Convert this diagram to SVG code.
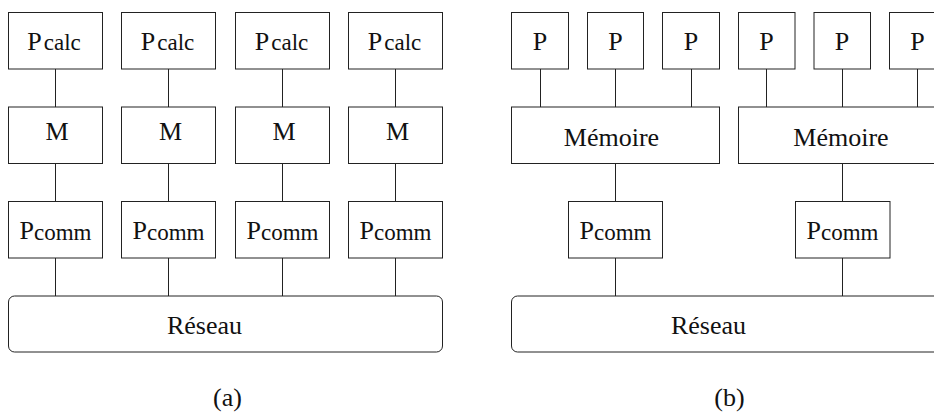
<svg xmlns="http://www.w3.org/2000/svg" width="934" height="414" viewBox="0 0 934 414">
  <style>
    .box { fill: #ffffff; stroke: #222222; stroke-width: 1; }
    .wire { stroke: #222222; stroke-width: 1; fill: none; }
    .c { text-anchor: middle; }
    .sub { font-size: 23px; }
  </style>
  <rect width="934" height="414" fill="#ffffff"/>

  <!-- connectors -->
  <g id="connectors">
    <!-- (a) four independent columns -->
    <path class="wire" d="M55.5 69V107M55.5 163.5V201.5M55.5 258V296"/>
    <path class="wire" d="M168.5 69V107M168.5 163.5V201.5M168.5 258V296"/>
    <path class="wire" d="M282.5 69V107M282.5 163.5V201.5M282.5 258V296"/>
    <path class="wire" d="M395.5 69V107M395.5 163.5V201.5M395.5 258V296"/>
    <!-- (b) processors to shared memories -->
    <path class="wire" d="M540.5 69V107M615.5 69V107M691.5 69V107"/>
    <path class="wire" d="M766.5 69V107M842.5 69V107M917.5 69V107"/>
    <path class="wire" d="M615.5 163.5V201.5M615.5 258V296"/>
    <path class="wire" d="M842.5 163.5V201.5M842.5 258V296"/>
  </g>

  <g font-family="Liberation Serif, Times New Roman, serif" font-size="26" fill="#111111">
  <!-- (a) distributed memory -->
  <g id="a-pcalc-1"><rect class="box" x="8.5" y="12.5" width="94" height="56.5"/><text class="c" x="54" y="49.5">P<tspan class="sub" dx="2">calc</tspan></text></g>
  <g id="a-pcalc-2"><rect class="box" x="121.5" y="12.5" width="94" height="56.5"/><text class="c" x="167.5" y="49.5">P<tspan class="sub" dx="2">calc</tspan></text></g>
  <g id="a-pcalc-3"><rect class="box" x="235.5" y="12.5" width="94" height="56.5"/><text class="c" x="281.5" y="49.5">P<tspan class="sub" dx="2">calc</tspan></text></g>
  <g id="a-pcalc-4"><rect class="box" x="348.5" y="12.5" width="94" height="56.5"/><text class="c" x="394.5" y="49.5">P<tspan class="sub" dx="2">calc</tspan></text></g>

  <g id="a-mem-1"><rect class="box" x="8.5" y="107" width="94" height="56.5"/><text class="c" x="57" y="139.5">M</text></g>
  <g id="a-mem-2"><rect class="box" x="121.5" y="107" width="94" height="56.5"/><text class="c" x="170.5" y="139.5">M</text></g>
  <g id="a-mem-3"><rect class="box" x="235.5" y="107" width="94" height="56.5"/><text class="c" x="284" y="139.5">M</text></g>
  <g id="a-mem-4"><rect class="box" x="348.5" y="107" width="94" height="56.5"/><text class="c" x="397.5" y="139.5">M</text></g>

  <g id="a-pcomm-1"><rect class="box" x="8.5" y="201.5" width="94" height="56.5"/><text class="c" x="55.5" y="238.5">P<tspan class="sub" dy="1">comm</tspan></text></g>
  <g id="a-pcomm-2"><rect class="box" x="121.5" y="201.5" width="94" height="56.5"/><text class="c" x="168.5" y="238.5">P<tspan class="sub" dy="1">comm</tspan></text></g>
  <g id="a-pcomm-3"><rect class="box" x="235.5" y="201.5" width="94" height="56.5"/><text class="c" x="282.5" y="238.5">P<tspan class="sub" dy="1">comm</tspan></text></g>
  <g id="a-pcomm-4"><rect class="box" x="348.5" y="201.5" width="94" height="56.5"/><text class="c" x="395.5" y="238.5">P<tspan class="sub" dy="1">comm</tspan></text></g>

  <g id="a-reseau"><rect class="box" x="8.5" y="296" width="434" height="56" rx="6"/><text class="c" x="204.5" y="333.5">Réseau</text></g>
  <g id="a-caption"><text class="c" x="227.5" y="406">(a)</text></g>

  <!-- (b) shared memory clusters -->
  <g id="b-p-1"><rect class="box" x="511.5" y="12.5" width="57" height="56.5"/><text class="c" x="540" y="49.5">P</text></g>
  <g id="b-p-2"><rect class="box" x="587.5" y="12.5" width="56" height="56.5"/><text class="c" x="615.5" y="49.5">P</text></g>
  <g id="b-p-3"><rect class="box" x="662.5" y="12.5" width="57" height="56.5"/><text class="c" x="691" y="49.5">P</text></g>
  <g id="b-p-4"><rect class="box" x="738.5" y="12.5" width="56.5" height="56.5"/><text class="c" x="766.5" y="49.5">P</text></g>
  <g id="b-p-5"><rect class="box" x="814" y="12.5" width="56.5" height="56.5"/><text class="c" x="842" y="49.5">P</text></g>
  <g id="b-p-6"><rect class="box" x="889.5" y="12.5" width="56.5" height="56.5"/><text class="c" x="917.5" y="49.5">P</text></g>

  <g id="b-mem-1"><rect class="box" x="511.5" y="107" width="208" height="56.5"/><text class="c" x="611.5" y="145.5">Mémoire</text></g>
  <g id="b-mem-2"><rect class="box" x="738.5" y="107" width="208" height="56.5"/><text class="c" x="841" y="145.5">Mémoire</text></g>

  <g id="b-pcomm-1"><rect class="box" x="568.5" y="201.5" width="94" height="56.5"/><text class="c" x="615.5" y="238.5">P<tspan class="sub" dy="1">comm</tspan></text></g>
  <g id="b-pcomm-2"><rect class="box" x="795.5" y="201.5" width="94.5" height="56.5"/><text class="c" x="842.5" y="238.5">P<tspan class="sub" dy="1">comm</tspan></text></g>

  <g id="b-reseau"><rect class="box" x="511.5" y="296" width="440" height="56" rx="6"/><text class="c" x="708.5" y="333.5">Réseau</text></g>
  <g id="b-caption"><text class="c" x="729.5" y="406">(b)</text></g>
  </g>
</svg>
